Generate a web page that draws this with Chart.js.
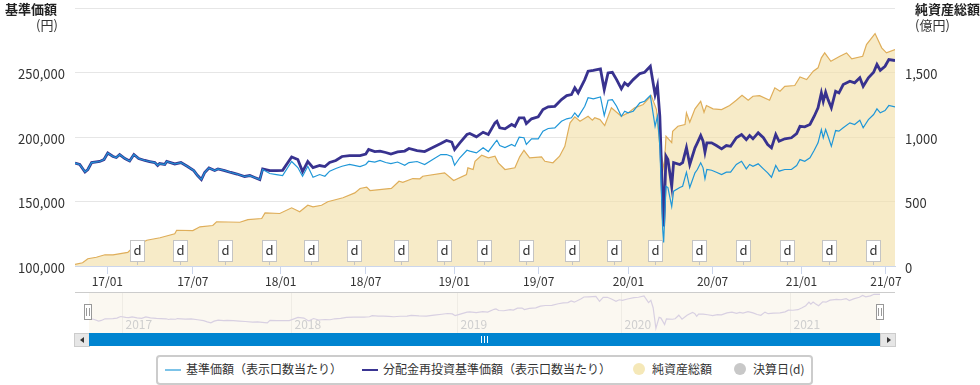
<!DOCTYPE html>
<html lang="ja">
<head>
<meta charset="utf-8">
<title>基準価額チャート</title>
<script src="https://cdn.jsdelivr.net/npm/chart.js@4/dist/chart.umd.min.js"></script>
<style>
  html, body { margin: 0; padding: 0; background: #fff; }
  body { width: 980px; height: 385px; position: relative; overflow: hidden; font-family: "Noto Sans CJK JP", "Noto Sans", sans-serif; color: #333; }
  canvas { position: absolute; display: block; }
  #mainChart { left: 0; top: 0; }
  #naviChart { left: 0; top: 292px; }
  .label { position: absolute; white-space: nowrap; line-height: 18px; font-size: 12px; color: #333; }
  .label.title { font-size: 13px; }
  .label.bold { font-size: 13px; font-weight: 700; color: #222; }
  .navi-top { position: absolute; left: 75px; top: 292px; width: 820px; height: 1px; background: #ccc; }
  .btn { position: absolute; top: 333px; width: 14px; height: 12px; background: #e6e6e6; border: 1px solid #ccc; }
  .btn i { position: absolute; top: 3px; width: 0; height: 0; border-top: 3px solid transparent; border-bottom: 3px solid transparent; }
  #btnLeft { left: 74px; } #btnLeft i { left: 5px; border-right: 4px solid #333; }
  #btnRight { left: 880px; } #btnRight i { left: 6px; border-left: 4px solid #333; }
  .track { position: absolute; left: 89px; top: 333px; width: 791px; height: 13px; background: #0084d0; }
  .grip { position: absolute; top: 3px; width: 1px; height: 7px; background: #fff; }
  .handle { position: absolute; top: 304px; width: 6px; height: 14px; background: #fff; border: 1px solid #999; }
  .handle::before, .handle::after { content: ""; position: absolute; top: 3px; width: 1px; height: 8px; background: #999; }
  .handle::before { left: 1px; } .handle::after { left: 4px; }
  .legend { position: absolute; left: 156px; top: 355px; width: 653px; height: 26px; border: 2px solid #ccc; border-radius: 4px; background: #fff; }
  .swatch { position: absolute; top: 369px; width: 16px; height: 2px; }
  .dot { position: absolute; top: 363px; width: 12px; height: 12px; border-radius: 50%; }
</style>
</head>
<body>
<canvas id="mainChart" width="980" height="292"></canvas>
<canvas id="naviChart" width="980" height="41"></canvas>

<div class="label bold" style="left:5px;top:0">基準価額</div>
<div class="label title" style="left:36px;top:16px">(円)</div>
<div class="label bold" style="left:915px;top:0">純資産総額</div>
<div class="label title" style="left:915px;top:16px">(億円)</div>

<div class="navi-top"></div>
<div class="handle" style="left:84px"></div>
<div class="handle" style="left:876px"></div>
<div class="btn" id="btnLeft"><i></i></div>
<div class="track">
  <div class="grip" style="left:392px"></div>
  <div class="grip" style="left:395px"></div>
  <div class="grip" style="left:398px"></div>
</div>
<div class="btn" id="btnRight"><i></i></div>

<div class="legend"></div>
<div class="swatch" style="left:165px;background:#7cc3e8"></div>
<div class="label" style="left:186px;top:360px">基準価額（表示口数当たり）</div>
<div class="swatch" style="left:362px;background:#3a3592"></div>
<div class="label" style="left:383px;top:360px">分配金再投資基準価額（表示口数当たり）</div>
<div class="dot" style="left:633px;background:#f5e8b8"></div>
<div class="label" style="left:652px;top:360px">純資産総額</div>
<div class="dot" style="left:734px;background:#c8c8c8"></div>
<div class="label" style="left:753px;top:360px">決算日(d)</div>

<script>
// x positions of the price lines
const priceDates = [
  '2016-10-28','2016-11-07','2016-11-18','2016-11-24','2016-12-02','2016-12-19','2016-12-28',
  '2017-01-05','2017-01-16','2017-01-23','2017-01-30','2017-02-10','2017-02-20','2017-03-01','2017-03-11','2017-03-24',
  '2017-04-03','2017-04-14','2017-04-20','2017-04-24','2017-05-05','2017-05-09','2017-05-26','2017-06-08','2017-06-22',
  '2017-07-05','2017-07-13','2017-07-21','2017-07-28','2017-08-06','2017-08-18','2017-08-25','2017-09-08','2017-09-21',
  '2017-10-04','2017-10-20','2017-10-31','2017-11-10','2017-11-21','2017-11-27','2017-12-12','2017-12-26',
  '2018-01-08','2018-01-27','2018-02-09','2018-02-19','2018-03-02','2018-03-13','2018-03-27','2018-04-07','2018-04-17','2018-04-30',
  '2018-05-13','2018-05-29','2018-06-20','2018-07-02','2018-07-08','2018-07-21','2018-08-01','2018-08-13','2018-08-24',
  '2018-09-07','2018-09-22','2018-10-01','2018-10-18','2018-11-03','2018-11-20','2018-12-07','2018-12-19','2018-12-30',
  '2019-01-05','2019-01-16','2019-01-31','2019-02-06','2019-02-20','2019-03-06','2019-03-17','2019-03-31','2019-04-04','2019-04-10','2019-04-21',
  '2019-05-05','2019-05-12','2019-05-21','2019-05-31','2019-06-05','2019-06-16','2019-06-30','2019-07-10','2019-07-21',
  '2019-08-04','2019-08-18','2019-08-29','2019-09-08','2019-09-15','2019-09-22','2019-10-06','2019-10-13','2019-10-24',
  '2019-11-08','2019-11-16','2019-11-24','2019-12-03','2019-12-12','2019-12-22','2019-12-29',
  '2020-01-05','2020-01-16','2020-01-30','2020-02-09','2020-02-21',
  '2020-03-02','2020-03-07','2020-03-12','2020-03-18','2020-03-20','2020-03-25','2020-03-29','2020-04-06','2020-04-10','2020-04-23','2020-04-29','2020-05-07','2020-05-14',
  '2020-05-25','2020-05-30','2020-06-06','2020-06-11','2020-06-15','2020-06-19','2020-06-29','2020-07-09','2020-07-20','2020-07-30',
  '2020-08-08','2020-08-20','2020-08-31','2020-09-10','2020-09-17','2020-09-24','2020-10-05','2020-10-16','2020-10-25',
  '2020-11-02','2020-11-11','2020-11-18','2020-11-30','2020-12-14','2020-12-25',
  '2021-01-01','2021-01-11','2021-01-22','2021-01-31','2021-02-08','2021-02-15','2021-02-19','2021-02-24','2021-03-01','2021-03-08','2021-03-17','2021-03-24',
  '2021-04-02','2021-04-16','2021-04-26','2021-05-07','2021-05-14','2021-05-25','2021-06-05','2021-06-12','2021-06-19','2021-06-29','2021-07-07','2021-07-20'
];

// 分配金再投資基準価額 (thousand yen)
const reinvestedNav = [
  179.8,178.7,172.9,174.8,180.2,181.0,182.5,
  187.6,184.9,184.1,186.4,183.3,181.4,186.4,183.3,181.8,
  181.0,180.2,177.9,179.4,178.7,181.0,179.1,180.2,177.1,
  174.0,170.1,167.0,172.5,176.0,174.0,175.2,174.0,172.5,
  171.3,169.4,170.1,168.6,167.0,175.3,174.0,174.0,
  174.2,184.5,182.5,173.2,181.0,176.3,177.9,177.1,180.2,181.8,
  184.9,185.6,185.6,186.8,190.3,188.7,189.1,188.0,186.8,
  188.4,189.1,191.1,189.5,188.7,191.8,194.9,197.3,196.1,
  190.3,195.5,201.9,202.7,200.1,203.7,201.9,211.0,212.2,207.1,206.3,
  209.7,208.3,214.9,214.9,210.4,214.1,215.6,221.3,223.4,
  223.8,229.0,232.1,232.9,238.1,234.2,244.5,251.0,251.7,
  252.8,236.8,249.7,250.2,244.5,237.3,242.0,
  239.9,244.5,249.2,250.2,254.8,
  232.9,239.9,216.1,149.2,130.6,185.1,182.5,161.8,180.2,178.7,180.2,191.8,178.7,
  191.6,195.5,201.1,196.7,188.2,195.5,195.5,193.4,190.8,193.4,
  192.8,199.4,201.9,198.0,201.1,198.6,203.2,199.4,194.2,
  191.6,201.9,196.7,198.6,199.4,202.7,
  208.3,207.9,209.7,216.1,222.6,234.2,227.7,234.7,229.0,222.6,235.5,234.2,
  240.7,243.2,242.0,245.9,239.3,245.9,250.2,256.2,251.7,254.8,260.0,259.3
];

// 基準価額 (thousand yen)
const baseNav = [
  179.8,178.7,172.9,174.8,180.2,181.0,182.5,
  187.6,184.9,184.1,186.4,183.3,181.4,186.4,183.3,181.8,
  181.0,180.2,177.9,179.4,178.7,181.0,179.1,180.2,177.1,
  174.0,170.1,167.0,172.5,176.0,174.0,175.2,174.0,172.5,
  171.3,169.4,170.1,168.6,167.0,174.8,171.7,170.9,
  170.1,181.0,176.3,169.6,177.3,168.8,170.9,169.6,173.5,175.6,
  177.3,178.7,177.1,178.7,181.2,180.6,181.8,180.2,179.4,
  180.6,178.1,180.2,181.0,178.7,182.5,186.4,186.4,184.9,
  178.1,183.9,189.7,189.0,187.7,191.6,188.7,195.7,197.5,193.4,191.8,
  194.2,192.8,199.8,199.4,194.2,198.6,198.6,204.5,206.6,
  207.1,212.2,214.1,214.9,218.7,215.6,223.8,230.4,229.6,
  231.1,216.6,228.5,229.0,223.8,216.1,220.0,
  218.7,220.0,226.5,227.7,232.1,
  208.3,216.1,192.8,128.3,118.2,161.8,160.8,146.1,158.0,160.8,161.8,172.7,160.8,
  172.2,174.8,180.0,176.1,167.6,174.8,174.2,172.7,170.9,172.7,
  172.7,178.7,181.2,175.3,178.7,177.3,179.2,175.3,172.2,
  168.8,177.9,173.5,174.8,174.8,177.9,
  182.5,181.2,183.9,189.7,195.5,205.8,199.4,205.8,200.6,192.8,205.0,204.5,
  207.1,211.0,209.7,213.0,207.1,213.5,217.4,221.8,218.7,220.5,224.4,223.4
];

// 純資産総額 (億円)
const assetDates = [
  '2016-10-28','2016-11-13','2016-11-24','2016-12-12','2016-12-30','2017-01-16','2017-02-16','2017-02-27','2017-03-28','2017-04-25',
  '2017-05-26','2017-05-30','2017-07-03','2017-07-18','2017-08-14','2017-08-22','2017-10-10','2017-10-27','2017-11-25','2017-12-02',
  '2018-01-02','2018-01-27','2018-02-13','2018-03-02','2018-03-13','2018-03-31','2018-04-13','2018-05-15','2018-06-09','2018-06-20',
  '2018-07-04','2018-07-11','2018-08-25','2018-09-10','2018-09-18','2018-10-09','2018-10-24','2018-10-30','2018-12-15',
  '2019-01-03','2019-01-30','2019-02-02','2019-02-13','2019-02-17','2019-03-03','2019-03-17','2019-03-31','2019-04-07','2019-04-21','2019-05-12',
  '2019-05-22','2019-05-31','2019-06-12','2019-07-07','2019-07-14','2019-07-31','2019-08-14','2019-08-25','2019-09-01','2019-09-05','2019-09-15',
  '2019-09-26','2019-10-13','2019-10-22','2019-10-27','2019-11-07','2019-11-17','2019-12-01','2019-12-12','2019-12-22',
  '2020-01-05','2020-01-19','2020-02-06','2020-02-23','2020-03-05','2020-03-12','2020-03-21','2020-03-25','2020-04-06','2020-04-08','2020-04-19',
  '2020-05-04','2020-05-07','2020-05-14','2020-05-25','2020-06-06','2020-06-13','2020-06-18','2020-07-02','2020-07-20','2020-08-06','2020-08-20',
  '2020-09-01','2020-09-14','2020-09-24','2020-10-08','2020-10-29','2020-11-09','2020-11-20','2020-11-30','2020-12-21',
  '2021-01-01','2021-01-15','2021-01-29','2021-02-08','2021-02-15','2021-02-22','2021-03-07','2021-03-26','2021-04-09','2021-04-20',
  '2021-05-13','2021-05-21','2021-06-08','2021-06-22','2021-07-02','2021-07-20'
];
const assetValues = [
  12,25,56,68,87,87,105,143,200,219,
  250,277,275,304,314,343,339,360,368,412,
  407,451,420,471,459,471,498,529,567,601,
  611,585,601,657,649,678,676,696,722,
  663,709,761,748,812,859,839,851,800,748,761,
  846,897,839,846,812,800,851,928,1045,1110,1156,
  1122,1161,1130,1149,1135,1089,1226,1192,1161,
  1187,1226,1252,1321,1213,928,748,1006,957,1045,1083,
  1097,1187,1114,1218,1277,1192,1244,1218,1213,1244,1285,
  1324,1285,1316,1321,1285,1381,1355,1393,1399,
  1466,1445,1510,1536,1614,1652,1587,1626,1652,1606,
  1626,1717,1802,1691,1652,1678
];

// 決算日
const settlementDates = [
  '2017-03-07','2017-06-06','2017-09-08','2017-12-10','2018-03-08','2018-06-07','2018-09-14','2018-12-13','2019-03-08',
  '2019-06-04','2019-09-09','2019-12-06','2020-03-02','2020-06-02','2020-09-03','2020-12-04','2021-03-03','2021-06-04'
];

const tickDates = ['2017-01-04','2017-07-03','2018-01-04','2018-07-02','2019-01-04','2019-07-01','2020-01-06','2020-07-01','2021-01-04','2021-07-01'];
const tickLabels = ['17/01','17/07','18/01','18/07','19/01','19/07','20/01','20/07','21/01','21/07'];
const naviYearDates = ['2017-01-08','2018-01-12','2019-01-10','2020-01-01','2021-01-04'];
const naviYearLabels = ['2017','2018','2019','2020','2021'];

const xMin = Date.parse('2016-10-28');
const xMax = Date.parse('2021-07-20');
const fontFamily = '"Noto Sans CJK JP", "Noto Sans", sans-serif';

const toPoints = (dates, values, scale) => dates.map((d, i) => ({ x: Date.parse(d), y: values[i] * scale }));

// keep the plot box fixed whatever the tick labels measure
const fixBox = (scale, width, height) => {
    if (width) scale.width = width;
    if (height) scale.height = height;
    scale.paddingTop = scale.paddingBottom = scale.paddingLeft = scale.paddingRight = 0;
};

// blank first line pushes the number 2px below its grid line, as in the original
const sideLabel = text => ['', text];
const sideFont = { family: fontFamily, size: 13, lineHeight: '4px' };

// draws the "d" flags on the settlement dates
const flagPlugin = {
    id: 'flags',
    afterDatasetsDraw(chart) {
        const { ctx, scales } = chart;
        ctx.save();
        ctx.font = '13px ' + fontFamily;
        ctx.textAlign = 'center';
        ctx.textBaseline = 'middle';
        settlementDates.forEach(d => {
            const x = Math.round(scales.x.getPixelForValue(Date.parse(d)));
            ctx.strokeStyle = '#c4c4c4';
            ctx.fillStyle = '#fff';
            ctx.beginPath();
            ctx.moveTo(x + 0.5, 261);
            ctx.lineTo(x + 0.5, 265);
            ctx.stroke();
            ctx.fillRect(x - 7, 240, 14, 21);
            ctx.strokeRect(x - 6.5, 240.5, 14, 21);
            ctx.fillStyle = '#333';
            ctx.fillText('d', x + 0.5, 250);
        });
        ctx.restore();
    }
};

const mainChart = new Chart(document.getElementById('mainChart'), {
    type: 'line',
    plugins: [flagPlugin],
    data: {
        datasets: [{
            label: '基準価額（表示口数当たり）',
            data: toPoints(priceDates, baseNav, 1000),
            yAxisID: 'y',
            borderColor: '#1f97d8',
            borderWidth: 1.2,
            pointRadius: 0,
            order: 1
        }, {
            label: '分配金再投資基準価額（表示口数当たり）',
            data: toPoints(priceDates, reinvestedNav, 1000),
            yAxisID: 'y',
            borderColor: '#38328f',
            borderWidth: 2.8,
            pointRadius: 0,
            order: 2
        }, {
            label: '純資産総額',
            data: toPoints(assetDates, assetValues, 1),
            yAxisID: 'y1',
            borderColor: '#dfae5a',
            borderWidth: 1.2,
            backgroundColor: 'rgba(243, 225, 170, 0.65)',
            fill: 'origin',
            pointRadius: 0,
            order: 3
        }]
    },
    options: {
        responsive: false,
        animation: false,
        devicePixelRatio: 1,
        layout: { padding: { top: 8, left: 0, right: 0, bottom: 0 } },
        plugins: { legend: { display: false }, tooltip: { enabled: false } },
        scales: {
            x: {
                type: 'linear',
                min: xMin,
                max: xMax,
                afterBuildTicks: scale => {
                    scale.ticks = tickDates.map(d => ({ value: Date.parse(d) }));
                },
                afterFit: scale => fixBox(scale, 0, 26),
                grid: { drawOnChartArea: false, tickLength: 8, tickColor: '#ccd6eb' },
                border: { color: '#ccd6eb' },
                ticks: {
                    autoSkip: false,
                    maxRotation: 0,
                    padding: 0,
                    color: '#333',
                    font: { family: fontFamily, size: 12 },
                    callback: (value, index) => tickLabels[index]
                }
            },
            y: {
                position: 'left',
                min: 100000,
                max: 300000,
                afterFit: scale => fixBox(scale, 75, 0),
                grid: { color: '#e6e6e6', drawTicks: false },
                border: { display: false },
                ticks: {
                    stepSize: 50000,
                    padding: 10,
                    color: '#333',
                    font: sideFont,
                    callback: value => value === 300000 ? '' : sideLabel(value.toLocaleString('en-US'))
                }
            },
            y1: {
                position: 'right',
                min: 0,
                max: 2000,
                afterFit: scale => fixBox(scale, 85, 0),
                grid: { display: false, drawTicks: false },
                border: { display: false },
                ticks: {
                    stepSize: 500,
                    padding: 10,
                    color: '#333',
                    font: sideFont,
                    callback: value => value === 2000 ? '' : sideLabel(value.toLocaleString('en-US'))
                }
            }
        }
    }
});

// background, year lines and year labels of the navigator
const naviPlugin = {
    id: 'naviBackground',
    beforeDatasetsDraw(chart) {
        const { ctx, chartArea, scales } = chart;
        ctx.save();
        ctx.fillStyle = '#fbf8f1';
        ctx.fillRect(chartArea.left, chartArea.top, chartArea.width, chartArea.height);
        ctx.font = '12px ' + fontFamily;
        ctx.textBaseline = 'middle';
        naviYearDates.forEach((d, i) => {
            const x = Math.round(scales.x.getPixelForValue(Date.parse(d))) + 0.5;
            ctx.strokeStyle = '#efece5';
            ctx.beginPath();
            ctx.moveTo(x, chartArea.top);
            ctx.lineTo(x, chartArea.bottom);
            ctx.stroke();
            ctx.fillStyle = '#cfcfcf';
            ctx.fillText(naviYearLabels[i], x + 3, 32);
        });
        ctx.restore();
    }
};

// the crash low is flattened by the navigator's grouping
const naviPoints = toPoints(priceDates, reinvestedNav, 1000).filter(p => p.x !== Date.parse('2020-03-20'));

const naviChart = new Chart(document.getElementById('naviChart'), {
    type: 'line',
    plugins: [naviPlugin],
    data: {
        datasets: [{
            data: naviPoints,
            borderColor: '#d8d0e2',
            borderWidth: 1.2,
            pointRadius: 0
        }]
    },
    options: {
        responsive: false,
        animation: false,
        devicePixelRatio: 1,
        layout: { padding: { left: 89, right: 100, top: 1, bottom: 0 } },
        plugins: { legend: { display: false }, tooltip: { enabled: false } },
        scales: {
            x: { type: 'linear', display: false, min: xMin, max: xMax },
            y: { display: false, min: 134000, max: 264000 }
        }
    }
});
</script>
</body>
</html>
